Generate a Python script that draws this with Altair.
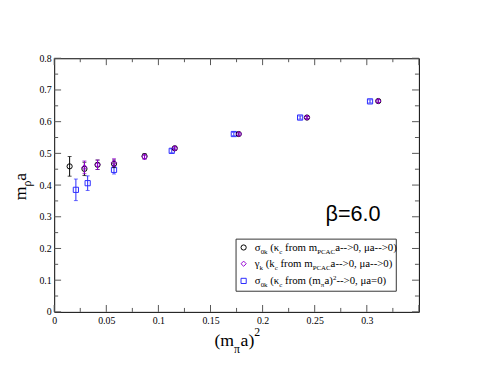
import altair as alt
import pandas as pd

# ---------------- data ----------------
circ_x = [0.0148, 0.0290, 0.0416, 0.0574, 0.0867, 0.1157, 0.1771, 0.2426, 0.3110]
circ_y = [0.459, 0.451, 0.464, 0.467, 0.491, 0.516, 0.561, 0.613, 0.665]
circ_e = [0.031, 0.021, 0.015, 0.012, 0.008, 0.006, 0.005, 0.005, 0.005]

dia_x = [0.0290, 0.0416, 0.0574, 0.0867, 0.1157, 0.1774, 0.2426, 0.3110]
dia_y = [0.456, 0.464, 0.471, 0.489, 0.516, 0.561, 0.613, 0.665]
dia_e = [0.020, 0.015, 0.012, 0.008, 0.006, 0.005, 0.005, 0.005]

sq_x = [0.0208, 0.0321, 0.0574, 0.1128, 0.1724, 0.2360, 0.3031]
sq_y = [0.385, 0.406, 0.448, 0.508, 0.561, 0.613, 0.664]
sq_e = [0.034, 0.023, 0.013, 0.006, 0.005, 0.005, 0.005]

x_labels = [0, 0.05, 0.1, 0.15, 0.2, 0.25, 0.3]
y_labels = [0, 0.1, 0.2, 0.3, 0.4, 0.5, 0.6, 0.7, 0.8]
x_major = [0, 0.05, 0.1, 0.15, 0.2, 0.25, 0.3, 0.35]
x_minor = [0.025, 0.075, 0.125, 0.175, 0.225, 0.275, 0.325]
y_major = [0, 0.1, 0.2, 0.3, 0.4, 0.5, 0.6, 0.7, 0.8]
y_minor = [0.05, 0.15, 0.25, 0.35, 0.45, 0.55, 0.65, 0.75]

W, H = 371, 258
SERIF = "'Liberation Serif', 'Times New Roman', serif"
SANS = "'Liberation Sans', Arial, sans-serif"

xs = alt.Scale(domain=[0, 0.35], nice=False, zero=False)
ysc = alt.Scale(domain=[0, 0.8], nice=False, zero=False)
x_axis = alt.Axis(values=x_labels, format="~g", title=None, grid=False, ticks=False,
                  domain=False, labelFont=SERIF, labelFontSize=10, labelColor="black",
                  labelPadding=4, labelFlush=False)
y_axis = alt.Axis(values=y_labels, format="~g", title=None, grid=False, ticks=False,
                  domain=False, labelFont=SERIF, labelFontSize=10, labelColor="black",
                  labelPadding=3, labelFlush=False)


def X(f):
    return alt.X(f"{f}:Q", scale=xs, axis=x_axis)


def Y(f):
    return alt.Y(f"{f}:Q", scale=ysc, axis=y_axis)


layers = []

# inward ticks on all four sides
TICK = "#555555"
for vals, ln in ((x_major, 7), (x_minor, 4)):
    d = pd.DataFrame({"t": vals})
    layers.append(alt.Chart(d).mark_rule(color=TICK, strokeWidth=1).encode(
        x=X("t"), y=alt.value(H), y2=alt.value(H - ln)))
    layers.append(alt.Chart(d).mark_rule(color=TICK, strokeWidth=1).encode(
        x=X("t"), y=alt.value(0), y2=alt.value(ln)))
for vals, ln in ((y_major, 7), (y_minor, 4)):
    d = pd.DataFrame({"t": vals})
    layers.append(alt.Chart(d).mark_rule(color=TICK, strokeWidth=1).encode(
        y=Y("t"), x=alt.value(0), x2=alt.value(ln)))
    layers.append(alt.Chart(d).mark_rule(color=TICK, strokeWidth=1).encode(
        y=Y("t"), x=alt.value(W), x2=alt.value(W - ln)))

BLACK, PURPLE, BLUE = "#000000", "#9400d3", "#2a2aff"


def series(xv, yv, ev, shape, color):
    df = pd.DataFrame({"x": xv, "y": yv,
                       "lo": [a - b for a, b in zip(yv, ev)],
                       "hi": [a + b for a, b in zip(yv, ev)]})
    base = alt.Chart(df)
    return [
        base.mark_rule(color=color, strokeWidth=1).encode(x=X("x"), y=Y("lo"), y2="hi:Q"),
        base.mark_tick(orient="horizontal", size=4, thickness=1, color=color).encode(x=X("x"), y=Y("lo")),
        base.mark_tick(orient="horizontal", size=4, thickness=1, color=color).encode(x=X("x"), y=Y("hi")),
        base.mark_point(shape=shape, size=28, color=color, filled=False, strokeWidth=1,
                        opacity=1).encode(x=X("x"), y=Y("y")),
    ]


layers += series(sq_x, sq_y, sq_e, "square", BLUE)
layers += series(circ_x, circ_y, circ_e, "circle", BLACK)
layers += series(dia_x, dia_y, dia_e, "diamond", PURPLE)

one = pd.DataFrame({"a": [0]})

# legend box
layers.append(alt.Chart(one).mark_rect(fill="white", stroke="#333333", strokeWidth=1).encode(
    x=alt.value(185), x2=alt.value(348), y=alt.value(184), y2=alt.value(237)))

WID = {' ': 0.25, '(': 0.333, ')': 0.333, '-': 0.333, '>': 0.564, '=': 0.564, ',': 0.25,
       '.': 0.25, '0': 0.5, '2': 0.5, '6': 0.5, 'a': 0.444, 'c': 0.444, 'f': 0.333,
       'k': 0.5, 'm': 0.778, 'o': 0.5, 'r': 0.333, 'A': 0.722, 'C': 0.667, 'P': 0.556,
       'σ': 0.55, 'κ': 0.5, 'μ': 0.5, 'γ': 0.45, 'π': 0.55, 'ρ': 0.5}


def tw(s, size):
    return sum(WID.get(c, 0.5) for c in s) * size


def rich(pieces, x0, y0, main, sub, sub_dy, sup_dy, vertical=False):
    out = []
    pos = 0.0
    for txt, kind in pieces:
        size = main if kind == "n" else sub
        shift = 0 if kind == "n" else (sub_dy if kind == "sub" else sup_dy)
        lead = len(txt) - len(txt.lstrip(" "))
        pos += tw(" " * lead, size)
        body = txt.lstrip(" ")
        if vertical:
            px, py, ang = x0 + shift, y0 - pos, 270
        else:
            px, py, ang = x0 + pos, y0 + shift, 0
        out.append(alt.Chart(one).mark_text(text=body, font=SERIF, fontSize=size, align="left",
                                            baseline="alphabetic", color="black", angle=ang)
                   .encode(x=alt.value(px), y=alt.value(py)))
        pos += tw(body, size)
    return out


leg_lines = [
    [("σ", "n"), ("0k", "sub"), (" (κ", "n"), ("c", "sub"), (" from m", "n"), ("PCAC", "sub"),
     ("a-->0, μa-->0)", "n")],
    [("γ", "n"), ("k", "sub"), (" (k", "n"), ("c", "sub"), (" from m", "n"), ("PCAC", "sub"),
     ("a-->0, μa-->0)", "n")],
    [("σ", "n"), ("0k", "sub"), (" (κ", "n"), ("c", "sub"), (" from (m", "n"), ("π", "sub"),
     ("a)", "n"), ("2", "sup"), ("-->0, μa=0)", "n")],
]
leg_y = [192.5, 209, 226.5]
leg_shapes = [("circle", BLACK), ("diamond", PURPLE), ("square", BLUE)]
for pieces, yy, (shp, col) in zip(leg_lines, leg_y, leg_shapes):
    layers.append(alt.Chart(one).mark_point(shape=shp, size=28, color=col, filled=False,
                                            strokeWidth=1, opacity=1)
                  .encode(x=alt.value(192.7), y=alt.value(yy)))
    layers += rich(pieces, 204, yy + 3.5, 11, 7, 3, -4)

# beta label
layers.append(alt.Chart(one).mark_text(text="β=6.0", font=SANS, fontSize=22,
                                       align="left", baseline="alphabetic", color="black")
              .encode(x=alt.value(276), y=alt.value(166)))

# axis titles
layers += rich([("(m", "n"), ("π", "sub"), ("a)", "n"), ("2", "sup")], 163, 293, 18, 12, 6.5, -10)
layers += rich([("m", "n"), ("ρ", "sub"), ("a", "n")], -28.5, 144.5, 18, 12, 4.5, -8, vertical=True)

chart = alt.layer(*layers).properties(
    width=W, height=H,
    padding={"left": 47, "top": 48, "right": 53, "bottom": 56},
    autosize=alt.AutoSizeParams(type="none"),
).configure_view(stroke="black", strokeWidth=1)

chart.save("out.html", embed_options={"renderer": "svg", "actions": False})
